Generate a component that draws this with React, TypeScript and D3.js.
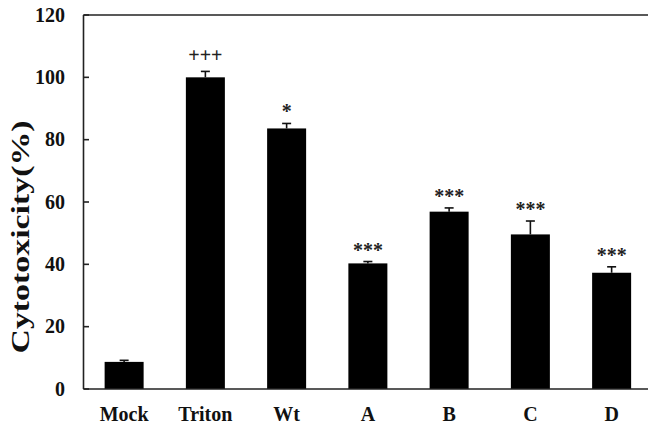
import React, { useRef, useEffect } from 'react';
import { select, scaleBand, scaleLinear } from 'd3';

// chart values
const groups = ['Mock', 'Triton', 'Wt', 'A', 'B', 'C', 'D'];
const means = [8.7, 100, 83.6, 40.3, 56.9, 49.6, 37.3];
const errors = [0.5, 1.9, 1.6, 0.6, 1.2, 4.3, 1.9];
const marks = ['', '+++', '*', '***', '***', '***', '***'];
const yTicks = [0, 20, 40, 60, 80, 100, 120];

const W = 648;
const H = 428;

const App = () => {
  const svgRef = useRef<SVGSVGElement | null>(null);

  useEffect(() => {
    const svg = select(svgRef.current);
    svg.selectAll('*').remove();

    const left = 83.5;
    const top = 15;
    const bottom = 389;
    const step = 81.25;

    const x = scaleBand<string>()
      .domain(groups)
      .range([left, left + step * groups.length])
      .paddingInner(0.52)
      .paddingOuter(0.26);
    const y = scaleLinear().domain([0, 120]).range([bottom, top]);

    const font = '"Liberation Serif", "Times New Roman", serif';
    const ink = '#111';

    // bars
    svg.append('g')
      .selectAll('rect')
      .data(groups)
      .join('rect')
      .attr('x', d => x(d)!)
      .attr('width', x.bandwidth())
      .attr('y', (d, i) => y(means[i]))
      .attr('height', (d, i) => y(0) - y(means[i]))
      .attr('fill', '#000');

    // error bars (upper only)
    const eb = svg.append('g').attr('stroke', ink).attr('stroke-width', 1.6);
    groups.forEach((g, i) => {
      const cx = x(g)! + x.bandwidth() / 2;
      eb.append('line')
        .attr('x1', cx).attr('x2', cx)
        .attr('y1', y(means[i])).attr('y2', y(means[i] + errors[i]));
      eb.append('line')
        .attr('x1', cx - 4.5).attr('x2', cx + 4.5)
        .attr('y1', y(means[i] + errors[i])).attr('y2', y(means[i] + errors[i]));
    });

    // significance marks
    svg.append('g')
      .selectAll('text')
      .data(groups)
      .join('text')
      .attr('x', d => x(d)! + x.bandwidth() / 2)
      .attr('y', (d, i) => y(means[i] + errors[i]) - (marks[i] === '+++' ? 9 : 5))
      .attr('text-anchor', 'middle')
      .attr('font-family', font)
      .attr('font-weight', 'bold')
      .attr('font-size', 20)
      .attr('fill', '#222')
      .text((d, i) => marks[i]);

    // axes frame
    const ax = svg.append('g').attr('stroke', '#222').attr('stroke-width', 1.6).attr('fill', 'none');
    ax.append('line').attr('x1', left).attr('x2', left).attr('y1', top).attr('y2', bottom);
    ax.append('line').attr('x1', left).attr('x2', W).attr('y1', bottom).attr('y2', bottom);
    ax.append('line').attr('x1', left).attr('x2', W).attr('y1', top).attr('y2', top);
    ax.selectAll('.tick')
      .data(yTicks)
      .join('line')
      .attr('class', 'tick')
      .attr('x1', left).attr('x2', left + 5.5)
      .attr('y1', d => y(d)).attr('y2', d => y(d));

    // y tick labels
    svg.append('g')
      .selectAll('text')
      .data(yTicks)
      .join('text')
      .attr('x', 65)
      .attr('y', d => y(d))
      .attr('dy', '0.34em')
      .attr('text-anchor', 'end')
      .attr('font-family', font)
      .attr('font-weight', 'bold')
      .attr('font-size', 20)
      .attr('fill', ink)
      .text(d => d);

    // x labels
    svg.append('g')
      .selectAll('text')
      .data(groups)
      .join('text')
      .attr('x', d => x(d)! + x.bandwidth() / 2)
      .attr('y', 421)
      .attr('text-anchor', 'middle')
      .attr('font-family', font)
      .attr('font-weight', 'bold')
      .attr('font-size', 20)
      .attr('fill', ink)
      .text(d => d);

    // y title
    svg.append('text')
      .attr('transform', 'translate(29,237) rotate(-90)')
      .attr('text-anchor', 'middle')
      .attr('font-family', font)
      .attr('font-weight', 'bold')
      .attr('font-size', 25)
      .attr('textLength', 233)
      .attr('lengthAdjust', 'spacingAndGlyphs')
      .attr('fill', ink)
      .text('Cytotoxicity(%)');
  }, []);

  return (
    <svg
      ref={svgRef}
      width={W}
      height={H}
      style={{ position: 'absolute', left: 0, top: 0, background: '#fff' }}
    />
  );
};

export default App;
